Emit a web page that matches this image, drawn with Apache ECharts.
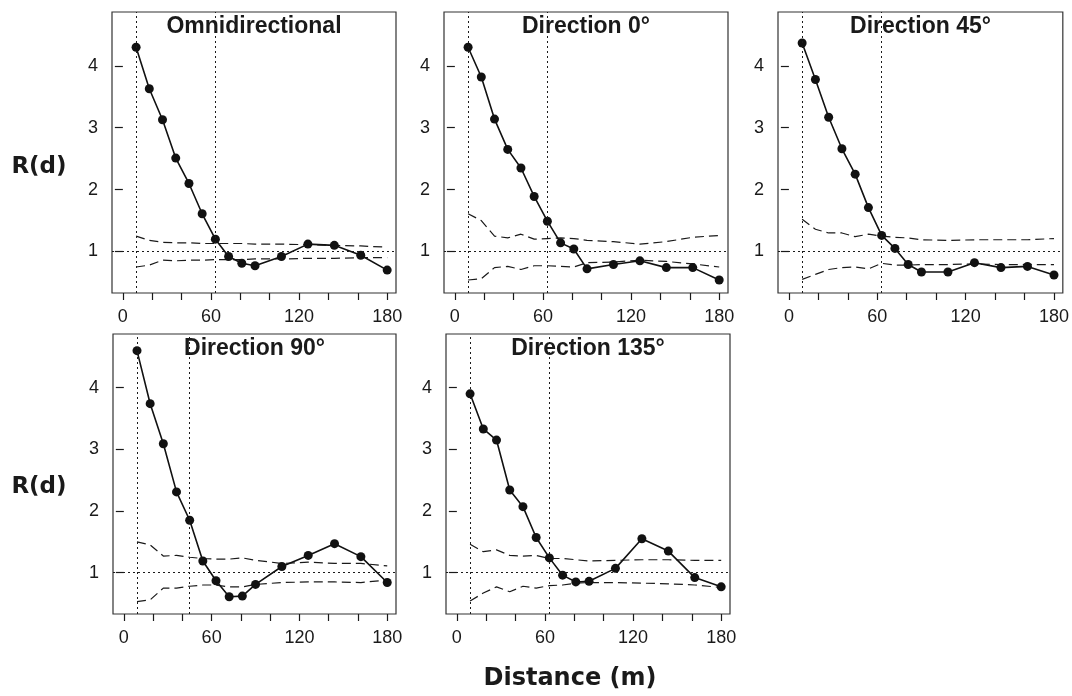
<!DOCTYPE html>
<html style="height: 100%">
  <head>
    <meta charset="utf-8" />
  </head>
  <body style="height: 100%; margin: 0; background: #fff">
    <div id="container" style="width: 1072px; height: 696px"></div>

    <script
      type="text/javascript"
      src="https://cdn.jsdelivr.net/npm/echarts@6/dist/echarts.min.js"
    ></script>

    <script type="text/javascript">
      var dom = document.getElementById("container");
      var myChart = echarts.init(dom, null, { renderer: "canvas" });

      // distance classes (m)
      var distance = [9, 18, 27, 36, 45, 54, 63, 72, 81, 90, 108, 126, 144, 162, 180];

      var panelTitles = ["Omnidirectional", "Direction 0°", "Direction 45°", "Direction 90°", "Direction 135°"];

      var omniR = [4.30, 3.63, 3.13, 2.51, 2.10, 1.61, 1.20, 0.92, 0.81, 0.77, 0.92, 1.12, 1.10, 0.94, 0.70];
      var omniUpper = [1.25, 1.18, 1.15, 1.14, 1.14, 1.13, 1.13, 1.13, 1.13, 1.12, 1.12, 1.11, 1.10, 1.09, 1.07];
      var omniLower = [0.75, 0.78, 0.86, 0.85, 0.86, 0.86, 0.87, 0.87, 0.87, 0.88, 0.88, 0.89, 0.89, 0.90, 0.90];

      var dir0R = [4.30, 3.82, 3.14, 2.65, 2.35, 1.89, 1.49, 1.14, 1.04, 0.72, 0.79, 0.85, 0.74, 0.74, 0.54];
      var dir0Upper = [1.61, 1.50, 1.25, 1.22, 1.28, 1.20, 1.21, 1.22, 1.21, 1.18, 1.16, 1.12, 1.16, 1.23, 1.26];
      var dir0Lower = [0.54, 0.56, 0.74, 0.76, 0.71, 0.77, 0.77, 0.76, 0.75, 0.82, 0.83, 0.86, 0.84, 0.80, 0.75];

      var dir45R = [4.37, 3.78, 3.17, 2.66, 2.25, 1.71, 1.26, 1.05, 0.79, 0.67, 0.67, 0.82, 0.74, 0.76, 0.62];
      var dir45Upper = [1.52, 1.36, 1.30, 1.30, 1.24, 1.28, 1.25, 1.23, 1.22, 1.19, 1.18, 1.19, 1.19, 1.19, 1.21];
      var dir45Lower = [0.55, 0.63, 0.71, 0.74, 0.75, 0.72, 0.81, 0.78, 0.78, 0.79, 0.79, 0.80, 0.79, 0.79, 0.79];

      var dir90R = [4.60, 3.74, 3.09, 2.31, 1.85, 1.19, 0.87, 0.61, 0.62, 0.81, 1.10, 1.28, 1.47, 1.26, 0.84];
      var dir90Upper = [1.50, 1.45, 1.27, 1.28, 1.25, 1.23, 1.22, 1.22, 1.24, 1.20, 1.15, 1.17, 1.15, 1.15, 1.11];
      var dir90Lower = [0.53, 0.56, 0.75, 0.75, 0.78, 0.80, 0.80, 0.77, 0.77, 0.81, 0.84, 0.85, 0.85, 0.84, 0.88];

      var dir135R = [3.90, 3.33, 3.15, 2.34, 2.07, 1.57, 1.24, 0.96, 0.85, 0.86, 1.07, 1.55, 1.35, 0.92, 0.77];
      var dir135Upper = [1.46, 1.34, 1.37, 1.28, 1.27, 1.28, 1.23, 1.23, 1.21, 1.19, 1.20, 1.21, 1.21, 1.20, 1.20];
      var dir135Lower = [0.54, 0.67, 0.77, 0.69, 0.78, 0.75, 0.79, 0.80, 0.83, 0.84, 0.84, 0.83, 0.82, 0.80, 0.76];

      // dotted vertical limits per panel
      var panelLimits = [[9, 63], [9, 63], [9, 63], [9, 45], [9, 63]];

      var xLabels = [0, 60, 120, 180];
      var xTicks = [0, 20, 40, 60, 80, 100, 120, 140, 160, 180];
      var yTicks = [1, 2, 3, 4];

      var panelR = [omniR, dir0R, dir45R, dir90R, dir135R];
      var panelUpper = [omniUpper, dir0Upper, dir45Upper, dir90Upper, dir135Upper];
      var panelLower = [omniLower, dir0Lower, dir45Lower, dir90Lower, dir135Lower];

      var boxes = [
        { left: 112, top: 12, width: 284, height: 281 },
        { left: 444, top: 12, width: 284, height: 281 },
        { left: 778, top: 12, width: 285, height: 281 },
        { left: 113, top: 334, width: 283, height: 280 },
        { left: 446, top: 334, width: 284, height: 280 },
      ];

      var ink = "#1a1a1a";
      var tickFont = { fontFamily: "Liberation Sans", fontSize: 18, color: ink };

      function pairs(ys) {
        return distance.map(function (d, i) {
          return [d, ys[i]];
        });
      }

      var grid = [], xAxis = [], yAxis = [], series = [], title = [];

      boxes.forEach(function (b, p) {
        grid.push({
          left: b.left, top: b.top, width: b.width, height: b.height,
          show: true, borderColor: "#333", borderWidth: 1.2, backgroundColor: "transparent",
        });
        xAxis.push({
          type: "value", gridIndex: p, min: -7.4, max: 186, position: "bottom",
          axisLine: { show: false },
          axisTick: { show: true, length: 7, customValues: xTicks, lineStyle: { color: ink, width: 1.2 } },
          axisLabel: Object.assign({ margin: 15, customValues: xLabels }, tickFont),
          splitLine: { show: false },
        });
        yAxis.push({
          type: "value", gridIndex: p, min: 0.33, max: 4.87,
          axisLine: { show: false },
          axisTick: { show: true, length: 8, customValues: yTicks, lineStyle: { color: ink, width: 1.2 } },
          axisLabel: Object.assign({ margin: 14, customValues: yTicks }, tickFont),
          splitLine: { show: false },
        });

        var dotted = { color: ink, width: 1, type: [2, 3] };
        var dashed = { color: ink, width: 1.2, type: [9, 5] };

        series.push({
          type: "line", xAxisIndex: p, yAxisIndex: p, data: pairs(panelUpper[p]),
          symbol: "none", lineStyle: dashed, silent: true, z: 2,
        });
        series.push({
          type: "line", xAxisIndex: p, yAxisIndex: p, data: pairs(panelLower[p]),
          symbol: "none", lineStyle: dashed, silent: true, z: 2,
        });
        series.push({
          type: "line", xAxisIndex: p, yAxisIndex: p, data: pairs(panelR[p]),
          symbol: "circle", symbolSize: 9,
          itemStyle: { color: "#111" },
          lineStyle: { color: "#111", width: 1.6 },
          silent: true, z: 3,
          markLine: {
            silent: true, symbol: "none", label: { show: false }, lineStyle: dotted,
            data: [
              { xAxis: panelLimits[p][0] },
              { xAxis: panelLimits[p][1] },
              { yAxis: 1 },
            ],
          },
        });

        title.push({
          text: panelTitles[p],
          left: b.left + b.width / 2, top: b.top + 3, textAlign: "center", padding: 0,
          textStyle: { fontFamily: "Liberation Sans", fontWeight: "bold", fontSize: 23, color: ink },
        });
      });

      // axis titles
      title.push({
        text: "R(d)", left: 39, top: 156, textAlign: "center", padding: 0,
        textStyle: { fontFamily: "DejaVu Sans", fontWeight: "bold", fontSize: 23, color: ink },
      });
      title.push({
        text: "R(d)", left: 39, top: 476, textAlign: "center", padding: 0,
        textStyle: { fontFamily: "DejaVu Sans", fontWeight: "bold", fontSize: 23, color: ink },
      });
      title.push({
        text: "Distance (m)", left: 570, top: 667, textAlign: "center", padding: 0,
        textStyle: { fontFamily: "DejaVu Sans", fontWeight: "bold", fontSize: 24, color: ink },
      });

      var option = {
        backgroundColor: "#fff",
        animation: false,
        title: title,
        grid: grid,
        xAxis: xAxis,
        yAxis: yAxis,
        series: series,
      };

      option && myChart.setOption(option);
    </script>
  </body>
</html>
